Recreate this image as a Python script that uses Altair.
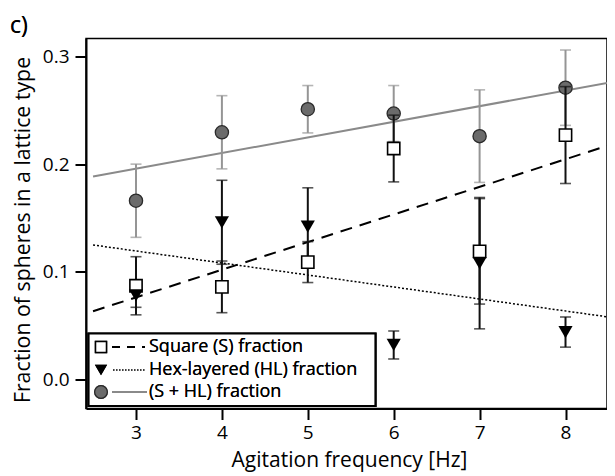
import altair as alt
import pandas as pd

# ---- data ----
freq = [3, 4, 5, 6, 7, 8]

square = [0.087, 0.086, 0.109, 0.2145, 0.119, 0.227]
square_err = [0.027, 0.024, 0.019, 0.031, 0.049, 0.045]

hexl = [0.078, 0.146, 0.142, 0.032, 0.108, 0.044]
hexl_err = [0.011, 0.039, 0.036, 0.013, 0.061, 0.014]

total = [0.166, 0.2296, 0.251, 0.247, 0.226, 0.271]
total_err = [0.034, 0.034, 0.022, 0.026, 0.043, 0.035]

fit_x = [2.5, 8.5]
fit_square = [0.0634, 0.2174]
fit_hex = [0.1249, 0.058]
fit_total = [0.1886, 0.2756]

legend_labels = ["Square (S) fraction", "Hex-layered (HL) fraction", "(S + HL) fraction"]

FONT = "Open Sans"

def pts(vals, errs):
    return pd.DataFrame({
        "f": freq, "v": vals,
        "lo": [v - e for v, e in zip(vals, errs)],
        "hi": [v + e for v, e in zip(vals, errs)],
    })

d_sq = pts(square, square_err)
d_hx = pts(hexl, hexl_err)
d_tot = pts(total, total_err)
d_fit = pd.DataFrame({"f": fit_x, "s": fit_square, "h": fit_hex, "t": fit_total})

W, H = 521, 370
xs = alt.Scale(domain=[2.418, 8.483], nice=False, zero=False)
ys = alt.Scale(domain=[-0.027, 0.3167], nice=False, zero=False)

X = alt.X("f:Q", scale=xs, title="Agitation frequency [Hz]",
          axis=alt.Axis(values=freq, format="d", grid=False, labelPadding=4,
                        titleX=263, titleY=52, titleBaseline="middle", titleAlign="center",
                        titleFontSize=21))
Y = alt.Y("v:Q", scale=ys, title="Fraction of spheres in a lattice type",
          axis=alt.Axis(values=[0.0, 0.1, 0.2, 0.3], format=".1f", grid=False, labelPadding=6,
                        titleX=-63, titleY=191, titleBaseline="middle", titleAlign="center",
                        titleAngle=-90, titleFontSize=21.3))


def errbars(df, color, width=2):
    base = alt.Chart(df)
    rule = base.mark_rule(color=color, strokeWidth=width).encode(
        x=alt.X("f:Q", scale=xs), y=alt.Y("lo:Q", scale=ys), y2="hi:Q")
    cap_lo = base.mark_tick(color=color, orient="horizontal", size=11, thickness=1.6).encode(
        x=alt.X("f:Q", scale=xs), y=alt.Y("lo:Q", scale=ys))
    cap_hi = base.mark_tick(color=color, orient="horizontal", size=11, thickness=1.6).encode(
        x=alt.X("f:Q", scale=xs), y=alt.Y("hi:Q", scale=ys))
    return rule + cap_lo + cap_hi

GRAY_BAR = "#959595"
GRAY_LINE = "#8a8a8a"
GRAY_FILL = "#6b6b6b"

fitb = alt.Chart(d_fit)
line_sq = fitb.mark_line(color="black", strokeWidth=2, strokeDash=[12, 8], clip=True).encode(
    x=X, y=alt.Y("s:Q", scale=ys))
line_hx = fitb.mark_line(color="black", strokeWidth=1.5, strokeDash=[2, 2], clip=True).encode(
    x=alt.X("f:Q", scale=xs), y=alt.Y("h:Q", scale=ys))
line_tot = fitb.mark_line(color=GRAY_LINE, strokeWidth=2, clip=True).encode(
    x=alt.X("f:Q", scale=xs), y=alt.Y("t:Q", scale=ys))

tot_pts = alt.Chart(d_tot).mark_point(shape="circle", filled=True, size=175,
                                      fill=GRAY_FILL, stroke="#2a2a2a", strokeWidth=1.3,
                                      opacity=1).encode(x=alt.X("f:Q", scale=xs), y=Y)
sq_pts = alt.Chart(d_sq).mark_point(shape="square", filled=True, size=150,
                                    fill="white", stroke="black", strokeWidth=1.6,
                                    opacity=1).encode(x=alt.X("f:Q", scale=xs), y=alt.Y("v:Q", scale=ys))
hx_pts = alt.Chart(d_hx).mark_point(shape="triangle-down", filled=True, size=200,
                                    color="black", opacity=1).encode(
    x=alt.X("f:Q", scale=xs), y=alt.Y("v:Q", scale=ys))

# ---- hand-drawn legend box (pixel positions within plot area) ----
ox, oy = 86, 38.5
def px(x):
    return x - ox
def py(y):
    return y - oy

leg_box = alt.Chart(d_fit).mark_rect(fill="white", stroke="black", strokeWidth=2.2).encode(
    x=alt.value(px(88.5)), x2=alt.value(px(375.5)), y=alt.value(py(333.5)), y2=alt.value(py(406)))
leg_l1 = alt.Chart(d_fit).mark_rule(color="black", strokeWidth=2, strokeDash=[8, 7]).encode(
    x=alt.value(px(112)), x2=alt.value(px(145)), y=alt.value(py(347)))
leg_l2 = alt.Chart(d_fit).mark_rule(color="black", strokeWidth=1.2, strokeDash=[1.5, 1.5]).encode(
    x=alt.value(px(113)), x2=alt.value(px(145)), y=alt.value(py(370)))
leg_l3 = alt.Chart(d_fit).mark_rule(color=GRAY_LINE, strokeWidth=2).encode(
    x=alt.value(px(112)), x2=alt.value(px(147)), y=alt.value(py(392)))
leg_s1 = alt.Chart(d_fit).mark_point(shape="square", filled=True, size=120, fill="white",
                                     stroke="black", strokeWidth=1.5, opacity=1).encode(
    x=alt.value(px(101)), y=alt.value(py(347)))
leg_s2 = alt.Chart(d_fit).mark_point(shape="triangle-down", filled=True, size=150,
                                     color="black", opacity=1).encode(
    x=alt.value(px(101)), y=alt.value(py(370)))
leg_s3 = alt.Chart(d_fit).mark_point(shape="circle", filled=True, size=160, fill=GRAY_FILL,
                                     stroke="#2a2a2a", strokeWidth=1.2, opacity=1).encode(
    x=alt.value(px(101)), y=alt.value(py(392)))
leg_texts = []
for lab, yy in zip(legend_labels, [347, 370, 392]):
    leg_texts.append(alt.Chart(d_fit).mark_text(text=lab, align="left", baseline="middle",
                                                font=FONT, fontSize=18, color="black").encode(
        x=alt.value(px(149)), y=alt.value(py(yy))))

label_c = alt.Chart(d_fit).mark_text(text="c)", align="left", baseline="alphabetic",
                                     font=FONT, fontSize=23, color="black").encode(
    x=alt.value(px(10)), y=alt.value(py(33)))

chart = alt.layer(
    line_sq, line_hx, line_tot,
    errbars(d_tot, GRAY_BAR), tot_pts,
    errbars(d_sq, "#111111"), errbars(d_hx, "#111111"),
    sq_pts, hx_pts,
    leg_box, leg_l1, leg_l2, leg_l3, leg_s1, leg_s2, leg_s3, *leg_texts,
    label_c,
).properties(
    width=W, height=H,
    autosize=alt.AutoSizeParams(type="none"),
    padding={"left": 78, "top": 30.5, "right": 0, "bottom": 66},
).configure_view(
    stroke="black", strokeWidth=1.5
).configure_axis(
    labelFont=FONT, titleFont=FONT, labelFontSize=19, titleFontSize=19.5,
    labelColor="black", titleColor="black", titleFontWeight="normal",
    domainColor="black", domainWidth=2, tickColor="black", tickWidth=2, tickSize=11,
)

chart.save("out.html", embed_options={"renderer": "svg", "actions": False})
